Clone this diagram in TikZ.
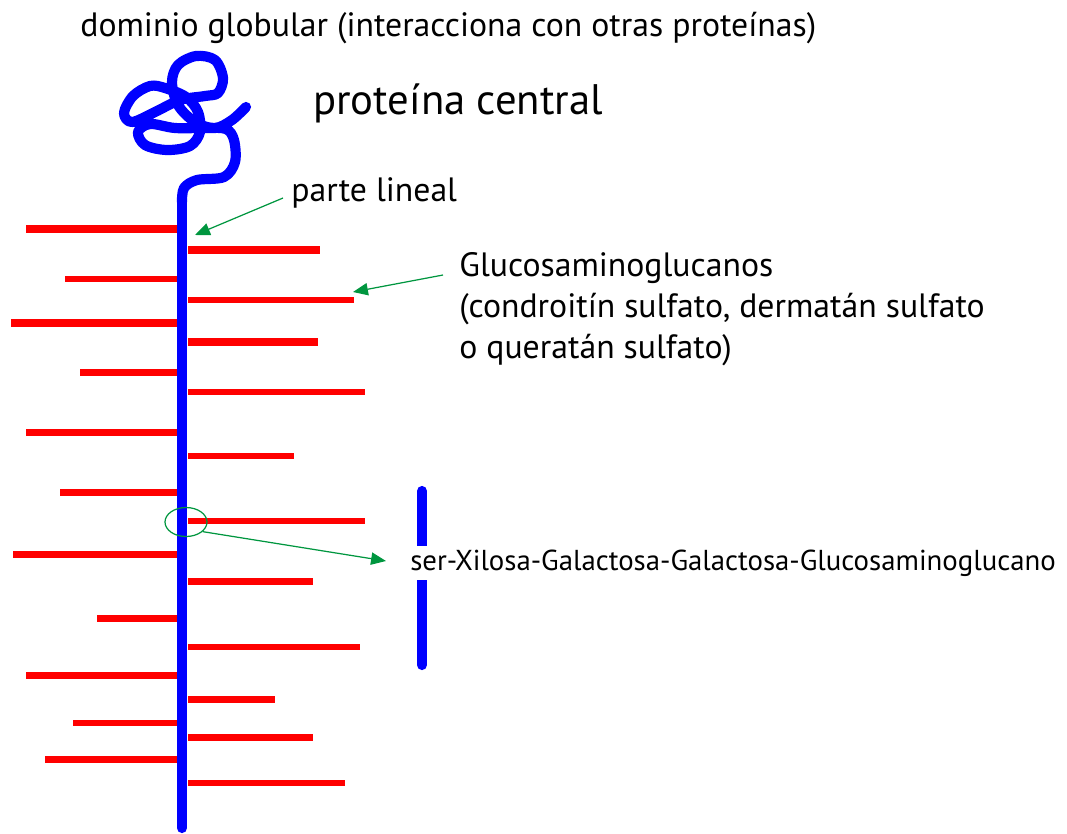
\documentclass[tikz,border=0pt]{standalone}
\usepackage{fontspec}
\setmainfont{PT Sans}
\usetikzlibrary{arrows.meta,positioning,shapes.geometric}
\definecolor{core}{HTML}{0000FF}
\definecolor{gag}{HTML}{FF0000}
\definecolor{pointer}{HTML}{00963F}
\definecolor{ink}{HTML}{000000}
\definecolor{paper}{HTML}{FFFFFF}
\tikzset{
  backbone/.style={
    draw=core,
    line width=5.8pt,
    line cap=round,
    line join=round
  },
  chain/.style={
    draw=gag,
    line width=4pt
  },
  thinchain/.style={
    draw=gag,
    line width=2.9pt
  },
  callout/.style={
    -{Triangle[length=8.5pt,width=7pt]},
    draw=pointer,
    line width=0.7pt
  },
  labeltext/.style={
    font=\fontsize{19.2}{23.4}\selectfont,
    text=ink,
    inner sep=0pt,
    anchor=west
  },
  smalltext/.style={
    labeltext,
    font=\fontsize{16.4}{19}\selectfont
  },
  title/.style={
    labeltext,
    font=\fontsize{24.3}{28}\selectfont
  }
}

\begin{document}
\begin{tikzpicture}[x=0.02cm, y=-0.02cm]
  \useasboundingbox (0,0) rectangle (1067,833);

  %===========================================================
  % Core protein: straight part plus the coiled globular end
  %===========================================================
  \draw[backbone] (182,828) -- (182,200);
  \draw[backbone] plot[smooth, tension=0.55] coordinates {
    (182,202) (184,188) (197,180) (224,177) (235,162) (234,140)
    (226,129) (205,128) (175,128) (150,124) (138,132) (145,145)
    (167,150) (190,146) (200,132) (198,112) (186,97) (165,88)
    (150,86) (133,96) (124,113) (132,122) (155,112) (180,100)
    (205,96) (218,93) (223,78) (215,60) (196,56) (178,65)
    (172,82) (178,105) (195,122) (215,128) (232,120) (246,107)};

  %===========================================================
  % Glycosaminoglycan chains, left side (end at the core)
  %===========================================================
  \draw[chain]     (26,229) -- (177,229);
  \draw[thinchain] (65,279) -- (177,279);
  \draw[chain]     (11,323) -- (177,323);
  \draw[chain]     (80,372) -- (177,372);
  \draw[chain]     (26,432) -- (177,432);
  \draw[chain]     (60,492) -- (177,492);
  \draw[chain]     (13,554) -- (177,554);
  \draw[chain]     (97,618) -- (177,618);
  \draw[chain]     (26,675) -- (177,675);
  \draw[thinchain] (73,723) -- (177,723);
  \draw[chain]     (45,759) -- (177,759);

  %===========================================================
  % Glycosaminoglycan chains, right side (start at the core)
  %===========================================================
  \draw[chain]     (188,250) -- (320,250);
  \draw[thinchain] (188,300) -- (354,300);
  \draw[chain]     (188,342) -- (318,342);
  \draw[thinchain] (188,392) -- (365,392);
  \draw[thinchain] (188,456) -- (294,456);
  \draw[thinchain] (188,521) -- (365,521);
  \draw[chain]     (188,581) -- (313,581);
  \draw[thinchain] (188,647) -- (360,647);
  \draw[chain]     (188,699) -- (275,699);
  \draw[chain]     (188,737) -- (313,737);
  \draw[thinchain] (188,783) -- (345,783);

  %===========================================================
  % Linkage region: short bar crossed by its sequence
  %===========================================================
  \draw[backbone] (422,491) -- (422,665);
  \node[smalltext, fill=paper, inner ysep=2pt] (link) at (410,563)
    {ser-Xilosa-Galactosa-Galactosa-Glucosaminoglucano};
  \node[draw=pointer, line width=0.7pt, ellipse, inner sep=0pt,
        minimum width=0.84cm, minimum height=0.58cm] (site) at (186,522) {};

  %===========================================================
  % Labels
  %===========================================================
  \node[labeltext] (globular) at (80,28)
    {dominio globular (interacciona con otras proteínas)};
  \node[title] (protein) at (313,103) {proteína central};
  \node[labeltext] (linear) at (291,193) {parte lineal};
  \node[labeltext, anchor=north west, align=left] (gags) at (459,252)
    {Glucosaminoglucanos\\
     (condroitín sulfato, dermatán sulfato\\
     o queratán sulfato)};

  %===========================================================
  % Pointers
  %===========================================================
  \coordinate (core-tip) at (195,235);
  \coordinate (gag-tip)  at (353,292);
  \coordinate (link-tip) at (386,561);

  \draw[callout] ([shift={(-8,5)}]linear.west) -- (core-tip);
  \draw[callout] ([shift={(-16,23)}]gags.north west) -- (gag-tip);
  \draw[callout] (site.-30) -- (link-tip);

\end{tikzpicture}
\end{document}
